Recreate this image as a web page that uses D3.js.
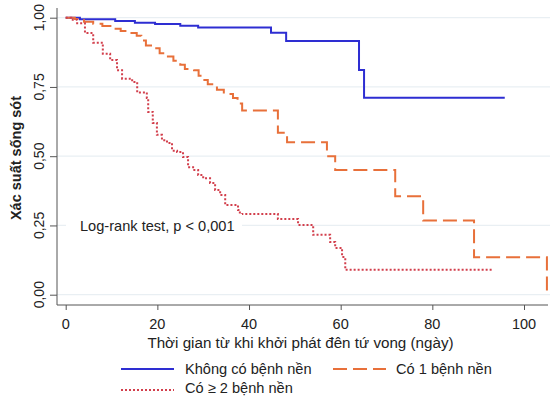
<!DOCTYPE html>
<html>
<head>
<meta charset="utf-8">
<script src="https://cdn.jsdelivr.net/npm/d3@7"></script>
<style>
  body { margin: 0; background: #fff; }
  svg { display: block; font-family: "Liberation Sans", Arial, sans-serif; }
</style>
</head>
<body>
<svg id="chart" width="550" height="396"></svg>
<script>
// ticks
const xTicks = [0, 20, 40, 60, 80, 100];
const yTicks = [0, 0.25, 0.5, 0.75, 1];

const groupNames = ["Không có bệnh nền", "Có 1 bệnh nền", "Có ≥ 2 bệnh nền"];

// Kaplan-Meier steps
const noneTime = [0, 3.1, 10.8, 15.1, 19.5, 25, 28.9, 44.8, 48.1, 64, 65.1, 95.8];
const noneSurv = [1, 0.994, 0.988, 0.982, 0.977, 0.971, 0.965, 0.946, 0.916, 0.811, 0.711, 0.711];

const oneTime = [0, 2, 4, 6, 8, 10, 12, 14, 15.5, 16.5, 17.5, 19, 20.5, 22, 23.5, 25, 26, 28, 29, 30, 31, 33, 34.5, 36.5, 37.5, 38.5, 46.3, 48.3, 57, 58.8, 71.9, 78, 89.1, 105];
const oneSurv = [1, 0.995, 0.985, 0.978, 0.97, 0.96, 0.952, 0.945, 0.935, 0.918, 0.9, 0.89, 0.872, 0.86, 0.845, 0.83, 0.815, 0.81, 0.79, 0.775, 0.76, 0.74, 0.725, 0.71, 0.69, 0.665, 0.585, 0.55, 0.5, 0.45, 0.355, 0.268, 0.135, 0.006];

const twoTime = [0, 1.2, 2.5, 4.2, 6, 8.1, 9.7, 11.2, 12.3, 14.5, 15.6, 17.7, 18, 19, 19.9, 21, 22.1, 23.2, 24.3, 25.6, 26.7, 27.8, 28.9, 30, 31.5, 32.6, 33.7, 34.8, 37.6, 38, 46.3, 50.7, 54, 57.7, 58.8, 60.3, 61, 93.2];
const twoSurv = [1, 0.993, 0.98, 0.945, 0.91, 0.87, 0.847, 0.81, 0.78, 0.768, 0.73, 0.71, 0.66, 0.62, 0.577, 0.558, 0.548, 0.52, 0.515, 0.497, 0.46, 0.45, 0.432, 0.42, 0.403, 0.378, 0.36, 0.324, 0.306, 0.291, 0.273, 0.252, 0.216, 0.19, 0.169, 0.136, 0.09, 0.087];

const series = [
  { name: groupNames[0], time: noneTime, surv: noneSurv, color: "#2e2ed2", dash: null },
  { name: groupNames[1], time: oneTime, surv: oneSurv, color: "#e8703a", dash: "14,6" },
  { name: groupNames[2], time: twoTime, surv: twoSurv, color: "#d23f4c", dash: "2,2" },
];

const svg = d3.select("#chart");
const plot = { left: 57, right: 548, top: 8, bottom: 305 };

const x = d3.scaleLinear().domain([0, 100]).range([65.7, 524]);
const y = d3.scaleLinear().domain([0, 1]).range([294.7, 17.7]);

const fmt = (v) => d3.format(".2f")(v).replace(".", ",");

// grid
svg.append("g")
  .selectAll("line")
  .data(yTicks)
  .join("line")
  .attr("x1", plot.left)
  .attr("x2", 550)
  .attr("y1", (d) => y(d))
  .attr("y2", (d) => y(d))
  .attr("stroke", "#e9eff3")
  .attr("stroke-width", 1.2);

// y axis
const yAxis = svg.append("g").attr("transform", `translate(${plot.left},0)`)
  .call(d3.axisLeft(y).tickValues(yTicks).tickSize(7).tickFormat(""));
yAxis.select(".domain").attr("d", `M0,${plot.top}V${plot.bottom}`);
yAxis.selectAll("line, path").attr("stroke", "#555");

svg.append("g")
  .selectAll("text")
  .data(yTicks)
  .join("text")
  .attr("transform", (d) => `translate(43.5,${y(d)}) rotate(-90)`)
  .attr("text-anchor", "middle")
  .attr("font-size", 14)
  .attr("fill", "#222")
  .text(fmt);

// x axis
const xAxis = svg.append("g").attr("transform", `translate(0,${plot.bottom})`)
  .call(d3.axisBottom(x).tickValues(xTicks).tickSize(5).tickFormat(""));
xAxis.select(".domain").attr("d", `M${plot.left},0H${plot.right}`);
xAxis.selectAll("line, path").attr("stroke", "#555");

svg.append("g")
  .selectAll("text")
  .data(xTicks)
  .join("text")
  .attr("x", (d) => x(d))
  .attr("y", 329)
  .attr("text-anchor", "middle")
  .attr("font-size", 14.5)
  .attr("fill", "#222")
  .text((d) => d);

// axis titles
svg.append("text")
  .attr("x", (plot.left + plot.right) / 2 - 2)
  .attr("y", 348)
  .attr("text-anchor", "middle")
  .attr("font-size", 15.2)
  .attr("fill", "#222")
  .text("Thời gian từ khi khởi phát đên tứ vong (ngày)");

svg.append("text")
  .attr("transform", "translate(21,158) rotate(-90)")
  .attr("text-anchor", "middle")
  .attr("font-size", 14.5)
  .attr("font-weight", "bold")
  .attr("fill", "#222")
  .text("Xác suất sống sót");

// survival curves
const line = d3.line()
  .x((d) => x(d[0]))
  .y((d) => y(d[1]))
  .curve(d3.curveStepAfter);

svg.append("g")
  .selectAll("path")
  .data(series)
  .join("path")
  .attr("d", (s) => line(s.time.map((t, i) => [t, s.surv[i]])))
  .attr("fill", "none")
  .attr("stroke", (s) => s.color)
  .attr("stroke-width", 2)
  .attr("stroke-dasharray", (s) => s.dash);

// annotation with white box
const note = svg.append("g");
note.append("rect")
  .attr("x", 66).attr("y", 214).attr("width", 176).attr("height", 22)
  .attr("fill", "#fff");
note.append("text")
  .attr("x", 80)
  .attr("y", 230.5)
  .attr("font-size", 14.6)
  .attr("fill", "#222")
  .text("Log-rank test, p < 0,001");

// legend
const legendPos = [
  { lx: 121, ly: 369, tx: 185, ty: 374 },
  { lx: 333, ly: 369, tx: 396, ty: 374 },
  { lx: 121, ly: 390, tx: 185, ty: 393 },
];
const legend = svg.append("g")
  .selectAll("g")
  .data(series)
  .join("g");

legend.append("line")
  .attr("x1", (s, i) => legendPos[i].lx)
  .attr("x2", (s, i) => legendPos[i].lx + 53)
  .attr("y1", (s, i) => legendPos[i].ly)
  .attr("y2", (s, i) => legendPos[i].ly)
  .attr("stroke", (s) => s.color)
  .attr("stroke-width", 2)
  .attr("stroke-dasharray", (s) => s.dash);

legend.append("text")
  .attr("x", (s, i) => legendPos[i].tx)
  .attr("y", (s, i) => legendPos[i].ty)
  .attr("font-size", 14.6)
  .attr("fill", "#222")
  .text((s) => s.name);
</script>
</body>
</html>
